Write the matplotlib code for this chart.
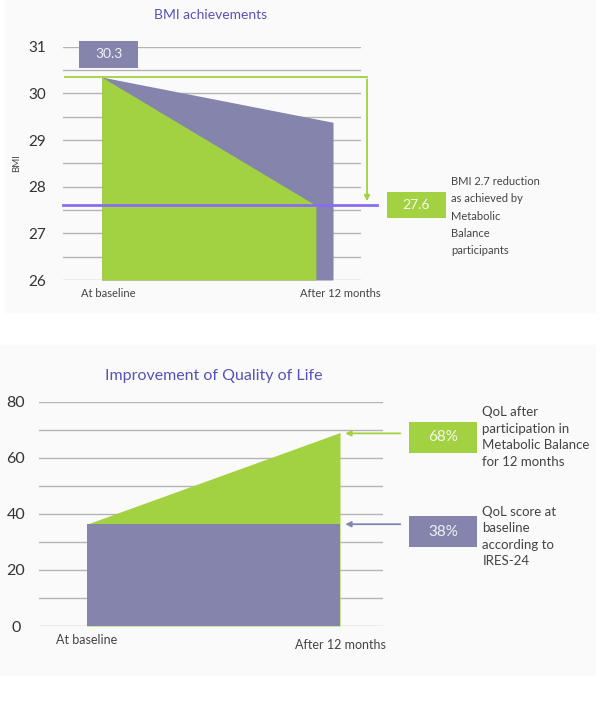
import matplotlib.pyplot as plt
from matplotlib.patches import Rectangle

plt.rcParams['font.family'] = ['Lato', 'DejaVu Sans']

# BMI chart data
bmi_x = [0, 1]
bmi_expected = [30.35, 29.38]
bmi_x_green = [0, 0.926]
bmi_achieved = [30.35, 27.6]
bmi_start_label = '30.3'
bmi_end_label = '27.6'
bmi_note = 'BMI 2.7 reduction\nas achieved by\nMetabolic\nBalance\nparticipants'

# Quality of life data
qol_x = [0, 1]
qol_baseline = [36.3, 36.3]
qol_after = [36.3, 69.0]
qol_after_label = '68%'
qol_base_label = '38%'
qol_after_note = 'QoL after\nparticipation in\nMetabolic Balance\nfor 12 months'
qol_base_note = 'QoL score at\nbaseline\naccording to\nIRES-24'
x_labels = ['At baseline', 'After 12 months']

green = '#a2d141'
purple = '#8584ad'
violet = '#8b6cf0'
grid_c = '#b4b4b4'
title_c = '#5753b5'
text_c = '#444444'

W, H = 605, 709
fig = plt.figure(figsize=(W / 100, H / 100), dpi=100)
fig.patch.set_facecolor('white')

# panel backgrounds
fig.patches.append(Rectangle((5 / W, 1 - 312 / H), 590 / W, 312 / H,
                             transform=fig.transFigure, color='#fafafa', zorder=-10))
fig.patches.append(Rectangle((0, 1 - 675 / H), 595 / W, (675 - 345) / H,
                             transform=fig.transFigure, color='#fafafa', zorder=-10))


def px_axes(x0, x1, y0, y1):
    return fig.add_axes([x0 / W, 1 - y1 / H, (x1 - x0) / W, (y1 - y0) / H])


# ---------------- BMI ----------------
ax = px_axes(63, 361, 46.7, 280)
ax.set_facecolor('none')
ax.set_xlim(-0.167, 1.121)
ax.set_ylim(26, 31)
for v in [26 + 0.5 * i for i in range(11)]:
    ax.axhline(v, color=grid_c, lw=1, zorder=0)
ax.fill_between(bmi_x, 26, bmi_expected, color=purple, lw=0, zorder=1)
ax.fill_between(bmi_x_green, 26, bmi_achieved, color=green, lw=0, zorder=2)
ax.plot([-0.167, 1.19], [27.6, 27.6], color=violet, lw=2, zorder=3, clip_on=False)
ax.plot([-0.158, 1.147], [30.35, 30.35], color=green, lw=1.3, zorder=3, clip_on=False)
ax.annotate('', xy=(1.147, 27.63), xytext=(1.147, 30.36),
            arrowprops=dict(arrowstyle='-|>', color=green, lw=1.3, mutation_scale=8),
            annotation_clip=False, zorder=3)
ax.add_patch(Rectangle((-0.098, 30.55), 0.255, 0.58, color=purple, lw=0,
                       clip_on=False, zorder=4))
ax.text(0.03, 30.84, bmi_start_label, color='#f0f0f6', fontsize=10,
        ha='center', va='center', zorder=5)
ax.add_patch(Rectangle((1.232, 27.325), 0.255, 0.57, color=green, lw=0,
                       clip_on=False, zorder=4))
ax.text(1.36, 27.61, bmi_end_label, color='#f4f8ec', fontsize=10,
        ha='center', va='center', zorder=5)
ax.text(1.509, 27.37, bmi_note, color=text_c, fontsize=8, ha='left',
        va='center', linespacing=1.7)
ax.set_yticks([26, 27, 28, 29, 30, 31])
ax.tick_params(axis='y', length=0, pad=18.7, labelsize=11, labelcolor='#333333')
for lab in ax.get_yticklabels():
    lab.set_horizontalalignment('center')
ax.set_xticks([])
for s in ax.spines.values():
    s.set_visible(False)
ax.text(-0.366, 28.5, 'BMI', fontsize=7, color=text_c, rotation=90,
        ha='center', va='center')
for xv, lab in zip(bmi_x, x_labels):
    ax.text(xv + 0.03, 25.7, lab, fontsize=8, color=text_c, ha='center', va='center')
ax.text(0.47, 31.68, 'BMI achievements', fontsize=10, color=title_c,
        ha='center', va='center')

# ---------------- Quality of life ----------------
bx = px_axes(39.3, 382.7, 401.7, 626)
bx.set_facecolor('none')
bx.set_xlim(-0.187, 1.1686)
bx.set_ylim(0, 80)
for v in range(0, 81, 10):
    bx.axhline(v, color=grid_c, lw=1, zorder=0)
bx.fill_between(qol_x, 0, qol_after, color=green, lw=0, zorder=1)
bx.fill_between(qol_x, 0, qol_baseline, color=purple, lw=0, zorder=2)
bx.annotate('', xy=(1.01, 68.7), xytext=(1.249, 68.7),
            arrowprops=dict(arrowstyle='-|>', color=green, lw=1.3, mutation_scale=8),
            annotation_clip=False)
bx.annotate('', xy=(1.01, 36.3), xytext=(1.249, 36.3),
            arrowprops=dict(arrowstyle='-|>', color=purple, lw=1.3, mutation_scale=8),
            annotation_clip=False)
bx.add_patch(Rectangle((1.273, 61.8), 0.269, 11.1, color=green, lw=0, clip_on=False))
bx.text(1.407, 67.3, qol_after_label, color='#f4f8ec', fontsize=11,
        ha='center', va='center')
bx.add_patch(Rectangle((1.273, 28.3), 0.269, 10.9, color=purple, lw=0, clip_on=False))
bx.text(1.407, 33.7, qol_base_label, color='#f0f0f6', fontsize=11,
        ha='center', va='center')
bx.text(1.562, 67.4, qol_after_note, color=text_c, fontsize=9.5, ha='left',
        va='center', linespacing=1.45)
bx.text(1.562, 31.9, qol_base_note, color=text_c, fontsize=9.5, ha='left',
        va='center', linespacing=1.45)
bx.set_yticks(range(0, 81, 20))
bx.tick_params(axis='y', length=0, pad=16.8, labelsize=11.5, labelcolor='#333333')
for lab in bx.get_yticklabels():
    lab.set_horizontalalignment('center')
bx.set_xticks([])
for s in bx.spines.values():
    s.set_visible(False)
bx.text(0.0, -5, x_labels[0], fontsize=9, color=text_c, ha='center', va='center')
bx.text(1.0, -6.8, x_labels[1], fontsize=9, color=text_c, ha='center', va='center')
bx.text(0.5, 89.3, 'Improvement of Quality of Life', fontsize=11.5, color=title_c,
        ha='center', va='center')

fig.savefig('out.png', dpi=100)
